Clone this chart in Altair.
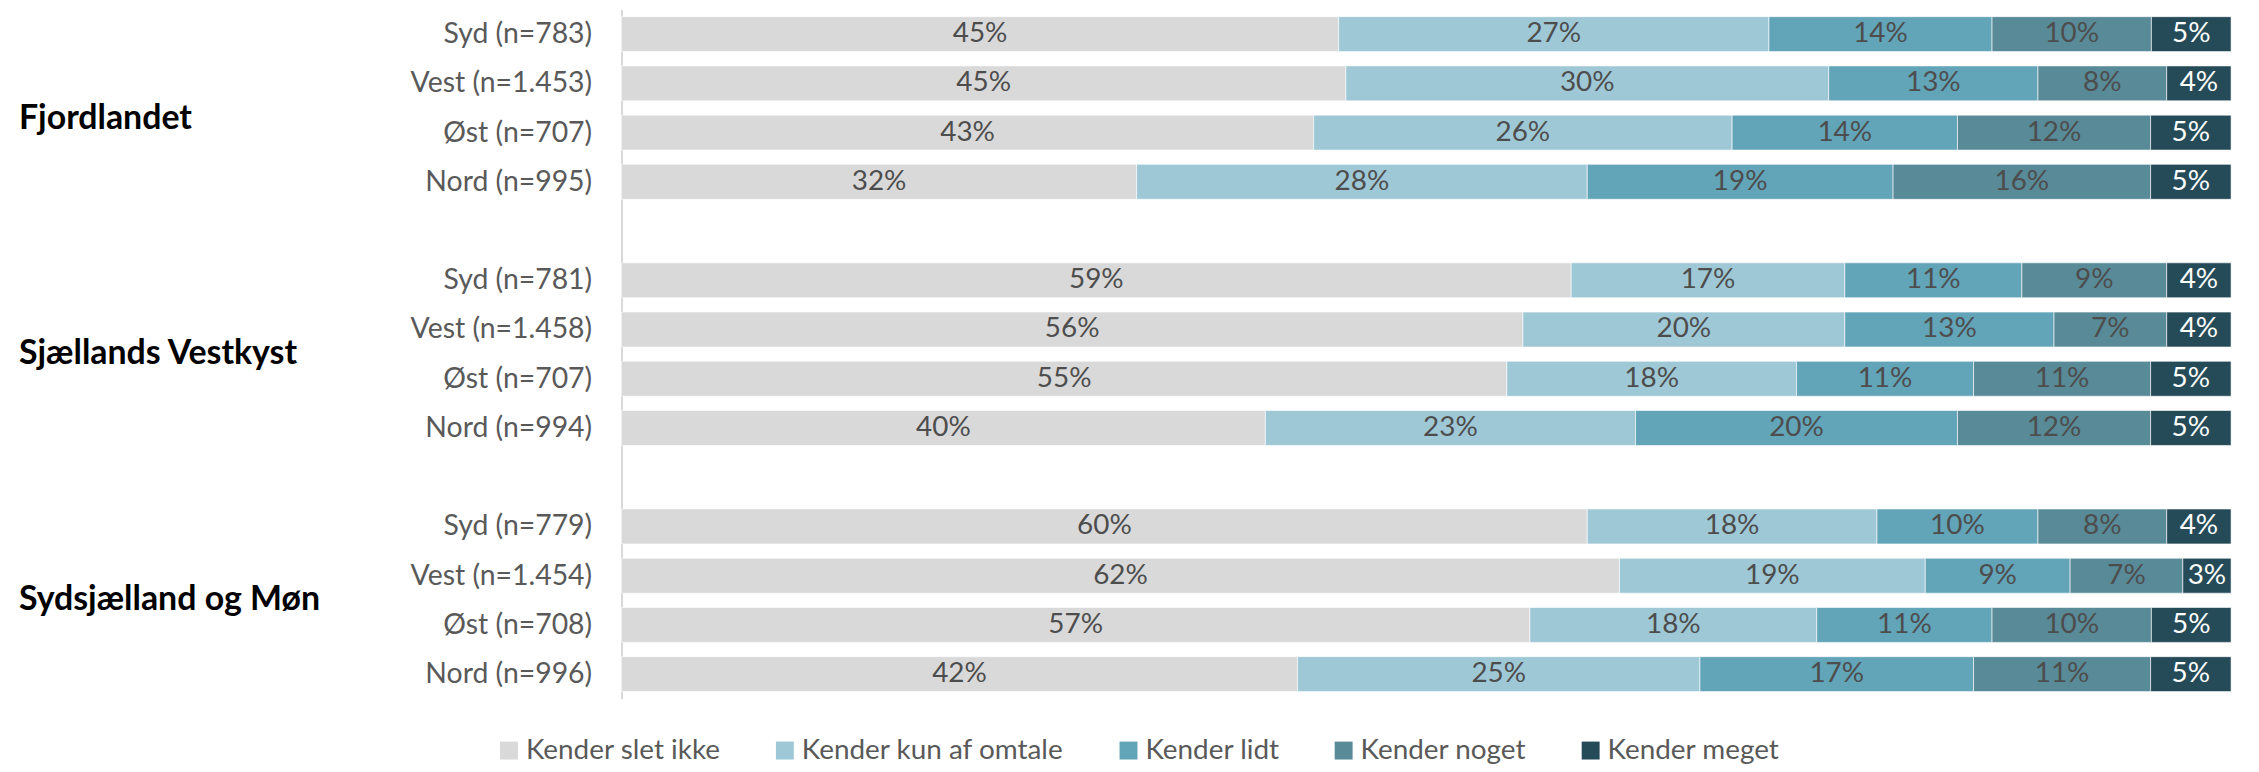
import altair as alt
import pandas as pd

groups = ["Fjordlandet", "Sjællands Vestkyst", "Sydsjælland og Møn"]
rows = [
    ["Syd (n=783)", "Vest (n=1.453)", "Øst (n=707)", "Nord (n=995)"],
    ["Syd (n=781)", "Vest (n=1.458)", "Øst (n=707)", "Nord (n=994)"],
    ["Syd (n=779)", "Vest (n=1.454)", "Øst (n=708)", "Nord (n=996)"],
]
categories = ["Kender slet ikke", "Kender kun af omtale", "Kender lidt", "Kender noget", "Kender meget"]
colors = ["#D9D9D9", "#9FC8D6", "#62A4B8", "#588A98", "#264B58"]

values = [
    [[45, 27, 14, 10, 5], [45, 30, 13, 8, 4], [43, 26, 14, 12, 5], [32, 28, 19, 16, 5]],
    [[59, 17, 11, 9, 4], [56, 20, 13, 7, 4], [55, 18, 11, 11, 5], [40, 23, 20, 12, 5]],
    [[60, 18, 10, 8, 4], [62, 19, 9, 7, 3], [57, 18, 11, 10, 5], [42, 25, 17, 11, 5]],
]

recs = []
domain = []
for gi, g in enumerate(groups):
    if gi > 0:
        domain.append(f"gap{gi}|")
    for ri, r in enumerate(rows[gi]):
        key = f"{g}|{r}"
        domain.append(key)
        for ci, c in enumerate(categories):
            recs.append({"row": key, "cat": c, "order": ci, "value": values[gi][ri][ci]})
df = pd.DataFrame(recs)

glab = pd.DataFrame({"group": groups, "row": [f"{g}|{rows[i][1]}" for i, g in enumerate(groups)]})

FONT = "Lato"
H = 692
W = 1616
step = H / len(domain)

yscale = alt.Scale(domain=domain, paddingInner=0.29, paddingOuter=0.145)

base = alt.Chart(df).transform_stack(
    stack="value", groupby=["row"], as_=["x0", "x1"], offset="normalize",
    sort=[alt.SortField("order", "ascending")]
).transform_calculate(
    mid="(datum.x0 + datum.x1) / 2", label="datum.value + '%'"
)

bars = base.mark_bar(stroke="white", strokeWidth=0.6).encode(
    y=alt.Y("row:N", scale=yscale, title=None,
            axis=alt.Axis(labelExpr="split(datum.value, '|')[1]", ticks=False, domain=True,
                          domainColor="#D9D9D9", domainWidth=2, labelFontSize=28.5, labelFont=FONT,
                          labelColor="#595959", labelPadding=30, grid=False, labelLimit=0)),
    x=alt.X("x0:Q", scale=alt.Scale(domain=[0, 1], nice=False), axis=None),
    x2="x1:Q",
    color=alt.Color("cat:N", scale=alt.Scale(domain=categories, range=colors),
                    sort=categories,
                    legend=alt.Legend(title=None, orient="none", direction="horizontal",
                                      legendX=-127, legendY=730, symbolType="square",
                                      symbolSize=324, symbolStrokeWidth=0, labelFontSize=28,
                                      labelFont=FONT, labelColor="#595959", columnPadding=50,
                                      labelOffset=3, columns=5, labelLimit=0)),
)

texts = base.mark_text(font=FONT, fontSize=28).encode(
    y=alt.Y("row:N", scale=yscale),
    x=alt.X("mid:Q"),
    text="label:N",
    color=alt.condition(alt.datum.cat == "Kender meget", alt.value("white"), alt.value("#4D4D4D")),
)

gbase = alt.Chart(glab)
group_text1 = gbase.transform_filter(alt.datum.group == "Fjordlandet").mark_text(
    font=FONT, fontSize=34, fontWeight="bold", align="left", color="black", dy=step * 0.73
).encode(y=alt.Y("row:N", scale=yscale), x=alt.value(-605), text="group:N")
group_text2 = gbase.transform_filter(alt.datum.group != "Fjordlandet").mark_text(
    font=FONT, fontSize=34, fontWeight="bold", align="left", color="black", dy=step / 2
).encode(y=alt.Y("row:N", scale=yscale), x=alt.value(-605), text="group:N")

chart = alt.layer(bars, texts, group_text1, group_text2).properties(
    width=W, height=H,
    autosize=alt.AutoSizeParams(type="none"),
    padding={"left": 616, "top": 0, "right": 20, "bottom": 72},
).configure_view(stroke=None)

chart.save("out.html", embed_options={"renderer": "svg", "actions": False})
